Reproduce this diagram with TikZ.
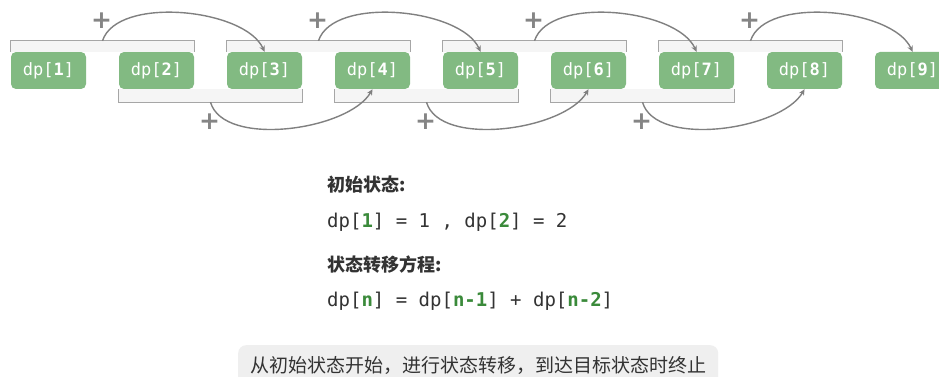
\documentclass[tikz,border=0pt]{standalone}
\usepackage{fontspec}
\setmonofont{DejaVu Sans Mono}
\newfontfamily\cjk{Noto Sans CJK SC}
\newfontfamily\plusfont{DejaVu Sans}
\usetikzlibrary{arrows.meta,calc}
\definecolor{nodegreen}{HTML}{82BA82}
\definecolor{dgreen}{HTML}{3A8A3A}
\definecolor{txt}{HTML}{333333}
\definecolor{arcgray}{HTML}{808080}
\definecolor{plusgray}{HTML}{858585}
\definecolor{brkline}{HTML}{A6A6A6}
\definecolor{brkfill}{HTML}{F5F5F5}
\definecolor{boxgray}{HTML}{EFEFEF}
\newcommand{\gd}[1]{\textcolor{dgreen}{\textbf{#1}}}
\begin{document}
\begin{tikzpicture}[x=1pt,y=1pt,
  dpnode/.style={fill=nodegreen, rounded corners=5pt, minimum width=75pt, minimum height=37pt, inner sep=0pt, text=white, font=\ttfamily\fontsize{17}{17}\selectfont},
  brk/.style={draw=brkline, line width=0.9pt},
  brkbg/.style={fill=brkfill},
  arc/.style={draw=arcgray, line width=1.4pt, -{Stealth[length=6pt,width=5.5pt]}, looseness=0.75},
  plus/.style={text=plusgray, font=\plusfont\bfseries\fontsize{25}{25}\selectfont, inner sep=0pt},
  cjkhead/.style={anchor=base west, inner sep=0pt, text=txt, font=\cjk\bfseries\fontsize{18}{18}\selectfont},
  mono/.style={anchor=base west, inner sep=0pt, text=txt, font=\ttfamily\fontsize{19}{19}\selectfont}]
\useasboundingbox (0,0) rectangle (939,-377);
\fill[white] (0,0) rectangle (939,-377);
% nodes
\foreach \i in {1,...,9}
  \node[dpnode] (d\i) at ({48.5+108*(\i-1)},-70.5) {dp[\textbf{\i}]};
% top brackets
\foreach \a/\b in {1/2,3/4,5/6,7/8} {
  \fill[brkbg] (d\a.north west) rectangle ($(d\b.north east)+(0,11)$);
  \draw[brk] (d\a.north west) -- ++(0,11) -| (d\b.north east);
  \coordinate (t\a) at ($(d\a.north west)!0.5!(d\b.north east)+(0,11)$);
}
% bottom brackets
\foreach \a/\b in {2/3,4/5,6/7} {
  \fill[brkbg] (d\a.south west) rectangle ($(d\b.south east)+(0,-13)$);
  \draw[brk] (d\a.south west) -- ++(0,-13) -| (d\b.south east);
  \coordinate (b\a) at ($(d\a.south west)!0.5!(d\b.south east)+(0,-13)$);
}
% top arcs
\foreach \a/\c in {1/3,3/5,5/7,7/9} {
  \draw[arc] (t\a) to[out=72,in=114] (d\c.north);
  \node[plus] (pt\a) at ($(t\a)+(-1,20)$) {+};
}
% bottom arcs
\foreach \a/\c in {2/4,4/6,6/8} {
  \draw[arc] (b\a) to[out=-74,in=-120] (d\c.south);
  \node[plus] (pb\a) at ($(b\a)+(-1,-19)$) {+};
}
% text
\node[cjkhead] (h1) at (327,-191) {初始状态:};
\node[mono] (l1) at (327,-227) {dp[\gd{1}] = 1 , dp[\gd{2}] = 2};
\node[cjkhead] (h2) at (327,-271) {状态转移方程:};
\node[mono] (l2) at (327,-306) {dp[\gd{n}] = dp[\gd{n-1}] + dp[\gd{n-2}]};
\node[anchor=north west, fill=boxgray, rounded corners=8pt, minimum width=480pt, minimum height=40pt, inner sep=0pt, text=txt, font=\cjk\fontsize{19}{19}\selectfont] (note) at (238,-345) {从初始状态开始，进行状态转移，到达目标状态时终止};
\end{tikzpicture}
\end{document}
